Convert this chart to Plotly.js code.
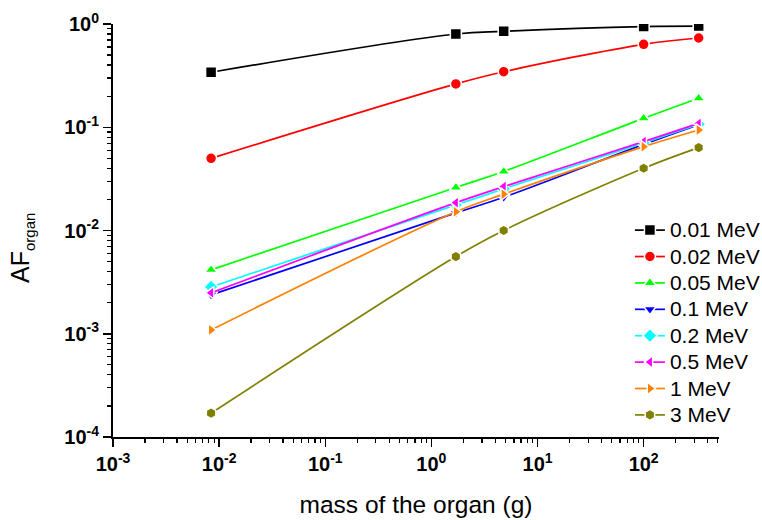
<!DOCTYPE html>
<html>
<head>
<meta charset="utf-8">
<script src="https://cdn.plot.ly/plotly-3.0.1.min.js"></script>
<style>
  html, body { margin: 0; padding: 0; background: #fff; }
  #chart { width: 762px; height: 520px; }
</style>
</head>
<body>
<div id="chart"></div>
<script>
// Organ mass (g) on the x axis
const organMass = [0.0084, 1.7, 4.8, 100, 330];

// Absorbed fraction in the organ for each photon energy
const af_0_01MeV = [0.341, 0.80, 0.85, 0.945, 0.955];
const af_0_02MeV = [0.050, 0.263, 0.345, 0.636, 0.732];
const af_0_05MeV = [0.00416, 0.0261, 0.0373, 0.122, 0.191];
const af_0_1MeV  = [0.00238, 0.0148, 0.0210, 0.0682, 0.106];
const af_0_2MeV  = [0.00284, 0.0177, 0.0253, 0.0705, 0.107];
const af_0_5MeV  = [0.00249, 0.0186, 0.0266, 0.0726, 0.109];
const af_1MeV    = [0.00109, 0.0152, 0.0225, 0.0649, 0.0941];
const af_3MeV    = [0.00017, 0.00559, 0.0100, 0.0401, 0.0635];

const seriesNames = ['0.01 MeV', '0.02 MeV', '0.05 MeV', '0.1 MeV', '0.2 MeV', '0.5 MeV', '1 MeV', '3 MeV'];
const seriesValues = [af_0_01MeV, af_0_02MeV, af_0_05MeV, af_0_1MeV, af_0_2MeV, af_0_5MeV, af_1MeV, af_3MeV];
const seriesColors = ['#000000', '#FF0000', '#00FF00', '#0000FF', '#00FFFF', '#FF00FF', '#FF8000', '#808000'];
const seriesSymbols = ['square', 'circle', 'triangle-up', 'triangle-down', 'diamond', 'triangle-left', 'triangle-right', 'hexagon'];

// Decade tick labels
const xTickVals = [0.001, 0.01, 0.1, 1, 10, 100];
const xTickText = ['10<sup>-3</sup>', '10<sup>-2</sup>', '10<sup>-1</sup>', '10<sup>0</sup>', '10<sup>1</sup>', '10<sup>2</sup>'];
const yTickVals = [0.0001, 0.001, 0.01, 0.1, 1];
const yTickText = ['10<sup>-4</sup>', '10<sup>-3</sup>', '10<sup>-2</sup>', '10<sup>-1</sup>', '10<sup>0</sup>'];

const FONT = 'Arial, "Liberation Sans", Helvetica, sans-serif';

const traces = seriesNames.map((name, i) => ({
  type: 'scatter',
  mode: 'lines+markers',
  name: '<span style="font-size:21px">' + name + '</span>',
  x: organMass,
  y: seriesValues[i],
  line: { color: seriesColors[i], width: 1.7, shape: 'spline', smoothing: 1 },
  marker: {
    symbol: seriesSymbols[i],
    color: seriesColors[i],
    size: 11,
    line: { color: '#ffffff', width: 1.5 }
  }
}));

const axisCommon = {
  type: 'log',
  showgrid: false,
  zeroline: false,
  showline: true,
  linecolor: '#000',
  linewidth: 2,
  ticks: 'outside',
  ticklen: 8,
  tickwidth: 1.5,
  tickcolor: '#000',
  tickmode: 'array',
  automargin: false,
  tickfont: { family: FONT, size: 20, color: '#000', weight: 'bold' },
  minor: { ticks: 'outside', ticklen: 4, tickwidth: 1.2, tickcolor: '#000', dtick: 'D1', showgrid: false }
};

const layout = {
  width: 762,
  height: 520,
  paper_bgcolor: '#fff',
  plot_bgcolor: '#fff',
  margin: { l: 113, r: 43, t: 24, b: 83, autoexpand: false },
  showlegend: true,
  legend: {
    x: 0.853, y: 0.545, xanchor: 'left', yanchor: 'top',
    bgcolor: 'rgba(0,0,0,0)',
    font: { family: FONT, size: 18, color: '#000' },
    tracegroupgap: 0
  },
  xaxis: Object.assign({}, axisCommon, {
    range: [-3, 2.71],
    tickvals: xTickVals,
    ticktext: xTickText,
    title: { text: 'mass of the organ (g)', font: { family: FONT, size: 24.5, color: '#000' }, standoff: 22 }
  }),
  yaxis: Object.assign({}, axisCommon, {
    range: [-4, 0],
    tickvals: yTickVals,
    ticktext: yTickText
  }),
  annotations: [{
    text: 'AF<sub><span style="font-size:15px">organ</span></sub>',
    textangle: -90,
    xref: 'paper', yref: 'paper',
    x: -0.15, y: 0.458,
    xanchor: 'center', yanchor: 'middle',
    showarrow: false,
    font: { family: FONT, size: 25, color: '#000' }
  }]
};

Plotly.newPlot('chart', traces, layout, { displayModeBar: false, staticPlot: true });
</script>
</body>
</html>
